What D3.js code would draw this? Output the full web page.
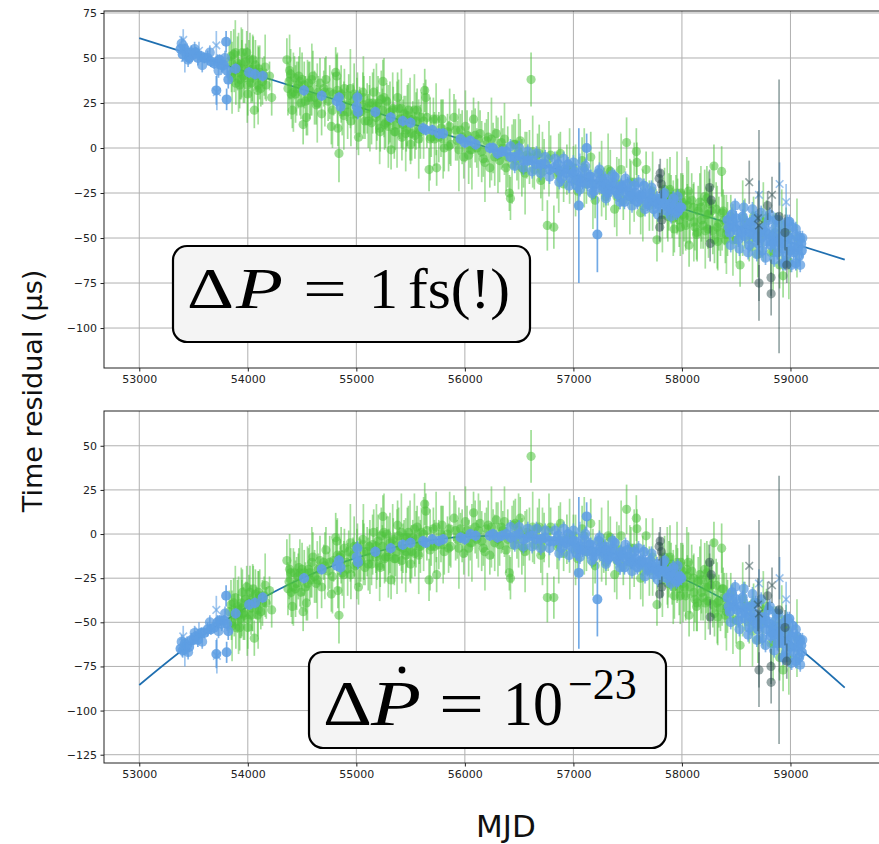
<!DOCTYPE html>
<html>
<head>
<meta charset="utf-8">
<script src="https://cdn.jsdelivr.net/npm/d3@7"></script>
<style>
  body { margin: 0; background: #fff; }
  svg { display: block; }
</style>
</head>
<body>
<svg id="chart"></svg>
<script>
// Axis ticks
const xTicks = [53000, 54000, 55000, 56000, 57000, 58000, 59000];
const topYTicks = [-100, -75, -50, -25, 0, 25, 50, 75];
const botYTicks = [-125, -100, -75, -50, -25, 0, 25, 50];

// Timing model curves (MJD, residual in us)
const topModelMjd = [53000, 59500];
const topModelRes = [61, -62];
const botModelMjd = [53000, 53500, 54000, 54500, 55000, 55500, 56000, 56500, 57000, 57500, 58000, 58500, 59000, 59500];
const botModelRes = [-85.5, -61, -41, -25, -13.5, -5.5, -1.5, -1.5, -5.5, -13.5, -25, -41, -61, -87];

// TOA residuals: [MJD, residual top panel, residual bottom panel, error]
const greenPoints = [
  [53830,48,-44,12],[53845,51,-40,14],[53850,41,-50,10],[53870,52,-39,14],[53875,43,-46,12],[53890,36,-53,12],
  [53905,47,-41,15],[53910,45,-43,9],[53925,35,-53,13],[53930,38,-48,11],[53945,44,-42,16],[53950,53,-33,13],
  [53960,40,-45,15],[53970,39,-46,14],[53980,48,-37,10],[53990,53,-30,12],[54000,30,-53,12],[54010,44,-39,16],
  [54020,49,-33,15],[54030,36,-46,11],[54040,39,-42,13],[54050,49,-31,13],[54060,21,-59,10],[54070,46,-34,14],
  [54080,40,-39,9],[54090,32,-46,12],[54100,44,-33,12],[54110,42,-35,15],[54120,33,-44,10],[54135,37,-39,13],
  [54150,40,-35,11],[54170,35,-39,9],[54200,40,-32,8],[54220,28,-43,10],
  [54360,49,-15,12],[54370,33,-31,15],[54380,37,-27,10],[54395,41,-22,14],[54400,30,-33,14],[54410,21,-41,10],
  [54430,39,-22,12],[54440,30,-31,16],[54450,33,-28,15],[54465,35,-24,13],[54470,40,-19,11],[54490,25,-33,9],
  [54500,38,-20,15],[54510,13,-44,11],[54520,35,-22,13],[54530,26,-30,14],[54540,17,-39,10],[54560,36,-20,12],
  [54570,32,-22,16],[54580,28,-26,10],[54600,40,-13,14],[54615,28,-24,15],[54630,24,-28,11],[54650,31,-20,9],
  [54665,36,-15,14],[54680,19,-30,12],[54700,33,-16,10],[54720,38,-9,13],[54740,26,-21,11],[54755,31,-16,15],
  [54770,12,-34,10],[54790,30,-15,12],
  [54810,42,-2,14],[54820,40,-4,12],[54830,11,-32,10],[54840,-3,-46,16],[54850,29,-13,10],[54860,30,-12,16],
  [54870,20,-22,13],[54890,33,-8,11],[54910,24,-16,9],[54920,20,-20,15],[54930,29,-10,12],[54950,15,-23,14],
  [54970,26,-12,10],[54980,30,-7,17],[54990,19,-18,11],[55010,29,-7,13],[55020,6,-30,10],[55030,20,-16,14],
  [55040,20,-15,12],[55060,31,-3,11],[55070,24,-10,16],[55080,15,-19,10],[55100,22,-10,14],[55110,15,-17,15],
  [55120,25,-7,10],[55140,14,-17,12],[55150,25,-6,17],[55160,31,1,13],[55180,17,-13,9],[55190,19,-11,15],
  [55200,25,-4,15],[55220,9,-19,11],[55230,27,-1,16],[55240,21,-7,12],[55245,37,10,12],[55260,13,-14,14],
  [55270,14,-13,14],[55280,26,0,10],[55300,15,-10,13],[55310,20,-5,17],[55320,-1,-26,11],[55340,22,-3,12],
  [55350,9,-14,15],[55360,9,-14,10],[55380,28,5,14],[55390,22,-1,16],[55400,16,-7,11],[55420,6,-15,13],
  [55430,13,-8,14],[55440,19,-2,10],[55460,10,-10,12],[55470,18,-2,17],[55480,21,1,15],[55500,2,-17,11],
  [55510,8,-10,15],[55520,16,-2,10],[55540,7,-11,13],[55550,15,-3,16],[55560,21,4,12],[55580,10,-7,10],
  [55590,9,-7,15],[55600,17,1,14],[55630,32,17,12],[55640,28,13,10],[55650,17,2,17],[55670,-12,-26,12],
  [55690,6,-7,11],[55710,16,3,12],[55720,5,-7,15],[55740,-11,-23,10],[55760,6,-6,14],[55780,11,0,16],
  [55790,16,5,11],[55810,0,-10,13],[55840,9,0,10],[55850,1,-8,14],[55870,2,-7,12],[55900,17,9,13],
  [55915,10,2,17],[55930,4,-3,11],[55960,10,3,9],[55975,6,-1,15],[55990,-5,-11,12],[56020,7,2,14],
  [56035,-4,-8,16],[56050,-1,-5,10],[56080,16,12,12],[56095,7,4,15],[56110,0,-3,11],[56140,8,6,13],
  [56155,-2,-4,17],[56170,-6,-8,10],[56200,4,3,12],[56215,6,5,14],[56230,-11,-12,11],[56260,0,0,14],
  [56275,-5,-5,16],[56290,8,8,10],[56320,-7,-6,12],[56335,3,4,15],[56350,0,2,11],[56380,-11,-9,13],
  [56395,-5,-3,17],[56410,-25,-22,10],[56420,-28,-25,12],[56450,2,5,14],[56465,2,6,14],[56480,-7,-3,11],
  [56510,4,9,12],[56525,-11,-7,16],[56540,-12,-8,10],[56570,-4,1,13],[56595,-5,0,15],[56610,38,44,15],
  [56640,-12,-6,11],[56670,-4,3,12],[56685,-3,4,16],[56700,-18,-12,10],[56730,-9,-2,14],[56760,-43,-36,14],
  [56790,-4,4,11],[56820,-44,-36,12],[56850,-15,-7,13],[56880,-3,6,12],[56910,-20,-11,10],[56940,-12,-3,14],
  [57000,-11,-1,12],[57040,-24,-14,10],[57080,-7,3,13],[57120,-20,-10,11],[57160,-5,6,14],[57200,-29,-18,10],
  [57240,-14,-4,12],[57280,-22,-11,11],[57300,-27,-16,13],[57340,-13,-2,12],[57380,-34,-23,10],[57420,-20,-9,14],
  [57460,-29,-18,11],[57490,3,14,14],[57530,-19,-8,12],[57580,-2,9,13],[57585,-8,3,11],[57620,-36,-25,12],
  [57670,-12,-1,10],[57700,-32,-21,14],[57770,-51,-40,12],[57800,-28,-18,13],[57840,-23,-13,12],
  [57870,-38,-28,14],[57880,-30,-20,16],[57890,-23,-13,18],[57900,-27,-17,12],[57910,-36,-26,14],[57930,-45,-35,13],
  [57945,-28,-19,13],[57960,-32,-23,15],[57975,-40,-31,15],[57985,-44,-35,16],[57990,-25,-16,11],[58005,-30,-21,16],
  [58020,-38,-30,14],[58035,-43,-35,14],[58050,-32,-24,12],[58060,-24,-16,17],[58066,-54,-46,12],[58075,-38,-30,15],
  [58090,-29,-21,15],[58105,-33,-25,13],[58120,-44,-37,13],[58135,-48,-41,14],[58140,-47,-39,16],[58150,-35,-27,14],
  [58165,-30,-23,16],[58180,-40,-33,12],[58195,-43,-36,13],[58210,-27,-20,15],[58225,-37,-30,15],[58230,-28,-22,18],
  [58240,-45,-38,11],[58255,-31,-25,14],[58270,-35,-29,14],[58285,-46,-40,13],[58295,-10,-5,12],[58300,-51,-45,13],
  [58315,-34,-29,15],[58330,-52,-47,16],[58340,-42,-38,15],[58355,-47,-42,13],[58366,-13,-8,14],[58380,-35,-31,12],
  [58390,-40,-36,14],[58400,-51,-46,13],[58420,-45,-41,15],
  [58450,-38,-34,12],[58500,-51,-49,13],[58536,-65,-63,12],[58580,-42,-41,14],[58620,-51,-50,12],[58660,-38,-39,11],
  [58700,-59,-60,13],[58740,-47,-49,12],[58780,-39,-41,10],[58820,-58,-62,12],[58860,-47,-52,11],[58900,-65,-70,13],
  [58932,-71,-77,12],[58960,-47,-54,14],[59000,-57,-64,12]
];

// TOAs with the larger error bars (same columns)
const greenWide = [
  [53855,39,-52,20],[53885,53,-36,18],[53915,42,-46,22],[53940,47,-39,20],[53995,35,-48,21],[54045,44,-36,19],
  [54095,35,-43,22],[54160,45,-29,18],
  [54385,43,-20,20],[54420,31,-30,22],[54480,37,-22,19],[54550,28,-28,21],[54590,38,-16,20],[54640,25,-26,22],
  [54710,31,-18,19],[54780,21,-24,21],
  [54825,32,-12,21],[54885,18,-23,19],[54945,33,-5,22],[55005,19,-17,20],[55065,28,-6,23],[55125,19,-13,21],
  [55185,23,-7,24],[55215,11,-18,20],[55255,28,1,22],[55295,12,-13,23],[55335,21,-4,21],[55375,13,-10,24],
  [55415,22,1,22],[55455,8,-12,21],[55495,16,-4,23],[55535,21,3,20],[55575,5,-12,22],[55620,15,0,21],
  [55680,5,-9,23],[55735,16,4,20],[55800,5,-6,22],[55860,12,3,21],[55945,-1,-8,23],[56005,12,7,20],
  [56065,-1,-5,22],[56125,5,2,21],[56185,-8,-10,22],[56245,5,4,23],[56305,-4,-3,21],[56365,5,7,20],
  [56435,-9,-6,22],[56495,-2,2,21],[56555,-14,-10,23],[56625,-2,4,20],[56715,-13,-7,22],[56775,-6,2,21],
  [56865,-14,-6,22],[56965,-10,-1,21],
  [57020,-18,-9,20],[57100,-11,-1,22],[57180,-26,-16,19],[57260,-17,-6,21],[57320,-12,-1,20],[57400,-27,-15,22],
  [57440,-12,-1,20],[57520,-27,-16,21],[57560,-19,-8,22],[57640,-32,-21,20],[57730,-24,-13,22],[57820,-37,-26,21],
  [57865,-28,-18,22],[57920,-39,-30,21],[57955,-25,-16,23],[58010,-37,-28,22],[58045,-29,-20,24],[58110,-41,-33,22],
  [58175,-33,-26,23],[58215,-46,-39,21],[58245,-37,-30,24],[58280,-31,-25,22],[58325,-44,-39,23],[58370,-36,-31,21],
  [58410,-48,-44,22],
  [58470,-51,-48,20],[58560,-39,-37,21],[58650,-55,-55,20],[58750,-41,-43,22],[58840,-58,-62,21],[58920,-43,-49,20],
  [58985,-63,-70,21],[59060,-50,-59,22]
];

const bluePoints = [
  [53380,55,-65,3],[53400,52,-66,4],[53420,55,-62,3],[53440,53,-63,5],[53460,50,-64,3],[53480,53,-60,4],
  [53500,52,-60,3],[53520,53,-58,3],[53540,50,-60,4],[53570,51,-56,3],[53600,50,-56,3],[53630,50,-54,4],
  [53660,48,-54,3],[53690,47,-53,3],[53710,32,-68,8],[53720,48,-50,4],[53740,49,-49,3],[53760,46,-51,4],
  [53780,46,-49,3],[53800,59,-35,6],[53805,27,-67,6],[53810,43,-51,4],[53820,38,-55,5],
  [53888,44,-45,3],[54012,42,-40,3],[54067,41,-39,3],[54137,40,-36,3],[54518,32,-25,3],[54681,29,-20,3],
  [54820,26,-18,3],[54840,28,-15,3],[54855,23,-19,4],[55003,23,-13,3],[55010,28,-8,4],[55015,20,-16,4],
  [55175,20,-10,3],[55317,17,-8,3],[55428,15,-6,3],[55500,14,-5,3],[55615,11,-4,3],[55640,10,-5,3],
  [55700,10,-3,3],[55760,8,-4,3],[55800,8,-3,3],[55960,5,-2,3],[56000,3,-3,3],[56050,4,0,3],
  [56100,2,-1,3],[56230,0,-1,3],[56260,0,0,3],[56300,-3,-2,3],[56340,-2,-1,3],[56380,-2,0,3],
  [56420,-5,-2,3],[56460,-5,-1,3],[56500,-4,0,3],[56540,-7,-3,3],[56580,-7,-2,3],[56620,-7,-1,3],
  [56660,-9,-3,3],[56700,-9,-3,3],[56740,-9,-2,3],[56780,-12,-4,3],[56820,-11,-4,3],
  [56860,-9,-1,4],[56875,-13,-4,4],[56890,-17,-8,4],[56920,-12,-4,4],[56935,-14,-5,4],[56950,-9,0,4],
  [56980,-17,-7,4],[56995,-14,-4,4],[57010,-13,-4,4],[57030,-21,-11,4],[57040,-18,-8,4],[57050,-32,-22,43],
  [57070,-17,-7,4],[57085,-19,-9,4],[57100,-13,-3,4],[57122,0,10,8],[57130,-20,-10,4],[57145,-16,-6,4],
  [57160,-16,-6,4],[57175,-20,-10,4],[57190,-24,-13,4],[57210,-20,-10,4],[57221,-48,-37,21],[57230,-14,-4,4],
  [57245,-18,-8,4],[57260,-21,-10,4],[57275,-23,-13,4],[57290,-17,-7,4],[57305,-20,-9,4],[57320,-25,-14,4],
  [57335,-23,-13,4],[57350,-21,-10,4],[57365,-19,-8,4],[57380,-16,-5,4],[57395,-24,-13,4],[57410,-26,-15,4],
  [57425,-23,-12,4],[57440,-21,-10,4],[57455,-22,-12,4],[57470,-30,-19,4],[57485,-25,-14,4],[57500,-20,-9,4],
  [57515,-24,-13,4],[57530,-27,-16,4],[57545,-27,-16,4],[57560,-21,-10,4],[57575,-25,-14,4],[57590,-30,-19,4],
  [57605,-28,-17,4],[57620,-26,-15,4],[57635,-27,-16,4],[57650,-21,-10,4],[57665,-26,-16,4],[57680,-31,-20,4],
  [57695,-30,-19,4],[57710,-25,-15,4],[57725,-28,-18,4],[57740,-34,-23,4],[57755,-30,-20,4],[57770,-28,-17,4],
  [57785,-31,-21,4],[57800,-32,-22,4],[57815,-29,-19,4],[57830,-26,-16,4],[57845,-31,-21,4],[57860,-35,-25,4],
  [57875,-33,-23,4],[57890,-31,-21,4],[57905,-34,-24,4],[57920,-28,-19,4],[57935,-32,-23,4],[57950,-36,-27,4],
  [57965,-35,-26,4],[57980,-33,-24,4],[57995,-33,-25,4],
  [58420,-40,-36,4],[58430,-44,-41,4],[58440,-47,-44,4],[58460,-37,-33,4],[58470,-41,-38,4],[58480,-44,-41,4],
  [58500,-39,-37,4],[58510,-46,-43,4],[58520,-51,-49,4],[58540,-43,-41,4],[58550,-47,-45,4],[58560,-38,-36,4],
  [58580,-49,-48,4],[58590,-45,-44,4],[58600,-42,-41,4],[58620,-54,-53,4],[58630,-47,-47,4],[58640,-41,-41,4],
  [58660,-48,-49,4],[58670,-44,-45,4],[58680,-39,-39,4],[58690,-50,-51,4],[58700,-53,-54,4],[58720,-46,-47,4],
  [58730,-50,-51,4],[58740,-57,-59,4],[58760,-44,-47,4],[58770,-47,-49,4],[58780,-52,-54,4],[58800,-40,-43,4],
  [58810,-48,-51,4],[58820,-54,-58,4],[58830,-52,-56,4],[58840,-49,-53,4],[58850,-53,-57,4],[58860,-44,-49,4],
  [58870,-40,-45,4],[58880,-58,-62,4],[58890,-52,-57,4],[58900,-48,-53,4],[58910,-50,-55,4],[58920,-53,-59,4],
  [58930,-56,-62,4],[58940,-44,-50,4],[58950,-64,-70,4],[58960,-60,-67,4],[58970,-54,-61,4],[58980,-49,-56,4],
  [58990,-41,-48,4],[59000,-57,-64,4],[59010,-51,-58,4],[59020,-44,-52,4],[59030,-58,-67,4],[59040,-55,-63,4],
  [59050,-64,-72,4],[59060,-49,-58,4],[59070,-55,-64,4],[59080,-60,-70,4],[59090,-50,-60,4],[59100,-53,-63,4],
  [59105,-57,-67,4]
];

// blue TOAs lying at the edges of the dense bands
const blueEdge = [
  [53390,58,-61,4],[53450,49,-67,4],[53510,55,-56,4],[53580,46,-61,4],[53650,53,-50,4],[53730,43,-55,4],[53790,50,-45,4],
  [56420,1,4,4],[56460,-10,-6,4],[56500,0,4,4],[56540,-11,-7,4],[56580,-2,3,4],[56620,-13,-7,4],[56660,-3,3,4],
  [56700,-14,-8,4],[56740,-5,2,4],[56780,-16,-8,4],[56830,-6,2,4],[56870,-19,-11,4],[56910,-6,3,4],[56960,-21,-12,4],
  [57000,-8,2,4],[57060,-23,-13,4],[57110,-10,0,4],[57170,-25,-15,4],[57240,-12,-2,4],[57300,-28,-17,4],[57360,-15,-4,4],
  [57430,-30,-19,4],[57480,-17,-6,4],[57540,-32,-21,4],[57600,-19,-8,4],[57660,-34,-24,4],[57720,-22,-11,4],
  [57780,-37,-26,4],[57840,-25,-15,4],[57900,-38,-28,4],[57960,-27,-18,4],
  [58450,-54,-50,4],[58490,-32,-30,4],[58530,-56,-54,4],[58570,-33,-31,4],[58610,-58,-57,4],[58650,-34,-34,4],
  [58690,-59,-60,4],[58730,-36,-37,4],[58770,-61,-63,4],[58810,-37,-41,4],[58850,-62,-66,4],[58890,-40,-45,4],
  [58930,-64,-70,4],[58970,-41,-48,4],[59010,-65,-73,4],[59050,-45,-54,4],[59090,-65,-74,4],[59110,-50,-60,4]
];

const blueCrosses = [
  [53405,60,-58,6],[53420,50,-67,8],[53550,54,-55,5],[53710,57,-43,8],[53715,31,-69,10],
  [57060,-11,-1,8],[58710,-26,-28,8],[58900,-20,-25,12],[58960,-30,-37,10]
];

const darkPoints = [
  [57790,-17,-7,8],[57795,-44,-34,8],[57800,-14,-4,8],[57810,-20,-10,8],[57815,-40,-30,6],
  [58255,-22,-16,10],[58260,-53,-47,10],[58270,-29,-23,8],[58710,-75,-77,10],[58790,-32,-35,8],
  [58821,-72,-75,10],[58822,-81,-84,12],[58895,-38,-43,76],[58950,-47,-53,10],[58966,-65,-72,10]
];

const darkCrosses = [
  [58620,-19,-18,12],[58700,-39,-40,15],[58710,-43,-45,53],[58830,-26,-29,10]
];

const W = 879, H = 844;
const svg = d3.select("#chart").attr("width", W).attr("height", H);
svg.append("rect").attr("width", W).attr("height", H).attr("fill", "#fff");

const x = d3.scaleLinear().domain([52675, 59825]).range([104, 880]);

const GREEN = "#4fc33e", BLUE = "#5e9ee2", DARK = "#2f4f4f", LINE = "#1f6fb0";

function drawPanel(p) {
  const y = d3.scaleLinear().domain(p.yDomain).range([p.bottom, p.top]);
  const g = svg.append("g");

  const clipId = "clip" + p.idx;
  g.append("clipPath").attr("id", clipId)
    .append("rect").attr("x", 104).attr("y", p.top).attr("width", 776).attr("height", p.bottom - p.top);

  // grid
  g.selectAll(".gx").data(xTicks).enter().append("line")
    .attr("x1", d => x(d)).attr("x2", d => x(d))
    .attr("y1", p.top).attr("y2", p.bottom)
    .attr("stroke", "#b0b0b0").attr("stroke-width", 1);
  g.selectAll(".gy").data(p.yTicks).enter().append("line")
    .attr("x1", 104).attr("x2", 880)
    .attr("y1", d => y(d)).attr("y2", d => y(d))
    .attr("stroke", "#b0b0b0").attr("stroke-width", 1);

  const plot = g.append("g").attr("clip-path", `url(#${clipId})`);

  // model curve
  const model = p.modelMjd.map((m, i) => [m, p.modelRes[i]]);
  plot.append("path")
    .datum(model)
    .attr("fill", "none")
    .attr("stroke", LINE)
    .attr("stroke-width", 1.7)
    .attr("d", d3.line().x(d => x(d[0])).y(d => y(d[1])).curve(d3.curveCatmullRom));

  const k = p.idx; // column of residual for this panel

  function series(rows, color, alpha, marker, r) {
    const s = plot.append("g");
    s.selectAll("line.err").data(rows).enter().append("line")
      .attr("x1", d => x(d[0])).attr("x2", d => x(d[0]))
      .attr("y1", d => y(d[k] - d[3])).attr("y2", d => y(d[k] + d[3]))
      .attr("stroke", color).attr("stroke-opacity", alpha).attr("stroke-width", 1.7);
    if (marker === "o") {
      s.selectAll("circle").data(rows).enter().append("circle")
        .attr("cx", d => x(d[0])).attr("cy", d => y(d[k]))
        .attr("r", r)
        .attr("fill", color).attr("fill-opacity", alpha);
    } else {
      s.selectAll("path.x").data(rows).enter().append("path")
        .attr("d", d => {
          const cx = x(d[0]), cy = y(d[k]), h = 3.8;
          return `M${cx - h},${cy - h}L${cx + h},${cy + h}M${cx - h},${cy + h}L${cx + h},${cy - h}`;
        })
        .attr("stroke", color).attr("stroke-opacity", alpha).attr("stroke-width", 1.6).attr("fill", "none");
    }
  }

  series(greenWide, GREEN, 0.5, "o", 4.6);
  series(greenPoints, GREEN, 0.55, "o", 4.6);
  series(blueEdge, BLUE, 0.75, "o", 5);
  series(bluePoints, BLUE, 0.88, "o", 5);
  series(blueCrosses, BLUE, 0.6, "x");
  series(darkPoints, DARK, 0.5, "o", 4.6);
  series(darkCrosses, DARK, 0.5, "x");

  // axes
  const ax = g.append("g").attr("transform", `translate(0,${p.bottom})`)
    .call(d3.axisBottom(x).tickValues(xTicks).tickFormat(d => d).tickSize(3.5).tickPadding(3.5));
  const ay = g.append("g").attr("transform", `translate(104,0)`)
    .call(d3.axisLeft(y).tickValues(p.yTicks).tickSize(3.5).tickPadding(3.5));
  [ax, ay].forEach(a => {
    a.select(".domain").remove();
    a.selectAll("text").attr("font-family", "DejaVu Sans").attr("font-size", 11).attr("fill", "#222");
    a.selectAll("line").attr("stroke", "#222");
  });

  // spines
  g.append("rect").attr("x", 104).attr("y", p.top).attr("width", 776).attr("height", p.bottom - p.top)
    .attr("fill", "none").attr("stroke", "#222").attr("stroke-width", 1);

  return y;
}

drawPanel({ idx: 1, top: 11, bottom: 368, yDomain: [-122.2, 76.1], yTicks: topYTicks,
  modelMjd: topModelMjd, modelRes: topModelRes });
drawPanel({ idx: 2, top: 411, bottom: 763, yDomain: [-129.7, 69.7], yTicks: botYTicks,
  modelMjd: botModelMjd, modelRes: botModelRes });

// annotation boxes
function box(x0, y0, w, h) {
  svg.append("rect").attr("x", x0).attr("y", y0).attr("width", w).attr("height", h)
    .attr("rx", 14).attr("ry", 14)
    .attr("fill", "#f4f4f4").attr("stroke", "#000").attr("stroke-width", 2.2);
}
const serif = "'Liberation Serif', 'DejaVu Serif', serif";

// piece of math text stretched to the given width
function glyph(parent, str, x0, base, w, italic) {
  const t = parent.append("text").attr("x", x0).attr("y", base).text(str);
  if (italic) t.attr("font-style", "italic");
  if (w) t.attr("textLength", w).attr("lengthAdjust", "spacingAndGlyphs");
  return t;
}

box(173, 246, 357, 96);
const t1 = svg.append("g").attr("font-family", serif).attr("font-size", 58).attr("fill", "#000");
glyph(t1, "Δ", 187, 308, 47);
glyph(t1, "P", 236, 308, 47, true);
glyph(t1, "=", 303, 308, 44);
glyph(t1, "1", 369, 308);
glyph(t1, "fs(!)", 408, 308, 102);

box(309, 652, 357, 96);
const t2 = svg.append("g").attr("font-family", serif).attr("font-size", 64).attr("fill", "#000");
glyph(t2, "Δ", 323, 725, 49);
glyph(t2, "P", 371, 725, 50, true);
t2.append("circle").attr("cx", 402).attr("cy", 670).attr("r", 3.4).attr("fill", "#000");
glyph(t2, "=", 439, 725, 45);
glyph(t2, "10", 503, 725, 60);
glyph(t2, "−23", 568, 699).attr("font-size", 44);

// axis labels
svg.append("text")
  .attr("transform", "translate(42,391) rotate(-90)")
  .attr("text-anchor", "middle")
  .attr("font-family", "DejaVu Sans").attr("font-size", 27).attr("fill", "#111")
  .text("Time residual (μs)");
svg.append("text")
  .attr("x", 506).attr("y", 837)
  .attr("text-anchor", "middle")
  .attr("font-family", "DejaVu Sans").attr("font-size", 31).attr("fill", "#111")
  .text("MJD");
</script>
</body>
</html>
